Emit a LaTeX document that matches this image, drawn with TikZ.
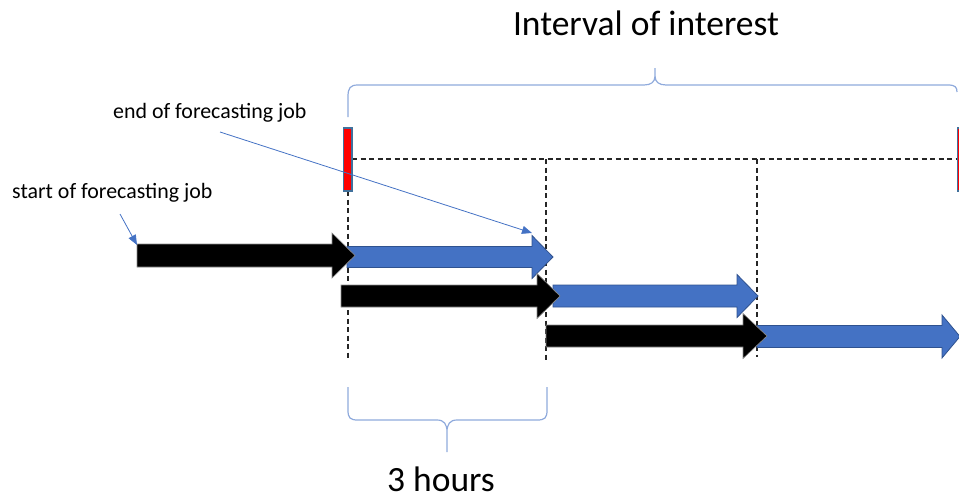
\documentclass[tikz,border=0pt]{standalone}
\usepackage{fontspec}
\setmainfont{Carlito}
\usetikzlibrary{arrows.meta}
\definecolor{jobblue}{HTML}{4472C4}
\definecolor{jobedge}{HTML}{2F528F}
\definecolor{bracecol}{HTML}{8FAADC}
\definecolor{baredge}{HTML}{41719C}
\tikzset{
  bigtext/.style={font=\fontsize{35.5}{40}\selectfont, inner sep=0pt, anchor=base},
  smalltext/.style={font=\fontsize{21.9}{26}\selectfont, inner sep=0pt, anchor=base west},
  brace/.style={draw=bracecol, line width=1.2pt},
  guide/.style={draw=black!85, line width=1.4pt, dash pattern=on 5pt off 3.5pt},
  pointer/.style={draw=jobblue, line width=0.8pt, -{Triangle[length=10pt,width=8pt]}},
  blackjob/.style={fill=black, draw=black!45, line width=0.6pt},
  bluejob/.style={fill=jobblue, draw=jobedge, line width=0.8pt},
  marker/.style={fill=red, draw=baredge, line width=1.8pt},
}
% block arrow: style, start x, head start x, tip x, centre y, body half height, head half height
\newcommand{\jobarrow}[7]{%
  \path[#1] (#2,#5-#6) -- (#3,#5-#6) -- (#3,#5-#7) -- (#4,#5) -- (#3,#5+#7)
    -- (#3,#5+#6) -- (#2,#5+#6) -- cycle;}
\begin{document}
\begin{tikzpicture}[x=1pt, y=-1pt]
\useasboundingbox (0,0) rectangle (959,499);

% title and interval brace
\node[bigtext] (title) at (646,35) {Interval of interest};
\draw[brace] (348,117) -- (348,97) .. controls (348,88) and (350,85) .. (358,85)
  -- (644,85) .. controls (651,85) and (655,82) .. (655,76) -- (655,68)
  (655,76) .. controls (655,82) and (659,85) .. (666,85)
  -- (948,85) .. controls (955,85) and (957,87) .. (957,92);

% dashed guides
\draw[guide] (352,159) -- (957,159);
\draw[guide] (348,191) -- (348,360);
\draw[guide] (546,159) -- (546,361);
\draw[guide] (757,159) -- (757,357);

% interval end markers
\path[marker] (343.5,128) rectangle (352,191);
\path[marker] (957.5,128) rectangle (966,191);

% forecasting jobs: run (black) followed by forecast horizon (blue)
\jobarrow{bluejob}{347}{532}{553}{257}{10.5}{21.5}
\jobarrow{blackjob}{137}{332}{355}{255.5}{11.5}{22.5}
\jobarrow{bluejob}{553}{737}{758}{296}{11}{21.5}
\jobarrow{blackjob}{341}{537}{560}{296}{11}{22.5}
\jobarrow{bluejob}{757}{942}{960}{336.5}{11}{21.5}
\jobarrow{blackjob}{546}{743}{767}{336}{11}{22.5}

% labels and their pointers
\node[smalltext] (endlbl) at (113,118) {end of forecasting job};
\node[smalltext] (startlbl) at (12,198) {start of forecasting job};
\coordinate (endtail) at (220,132);
\coordinate (endtip) at (532,233);
\coordinate (starttail) at (120,214);
\coordinate (starttip) at (137,245);
\draw[pointer] (endtail) -- (endtip);
\draw[pointer] (starttail) -- (starttip);

% three-hour brace
\draw[brace] (348,387) -- (348,410) .. controls (348,418) and (350,420) .. (358,420)
  -- (437,420) .. controls (444,420) and (447,424) .. (447,432) -- (447,452)
  (447,432) .. controls (447,424) and (450,420) .. (457,420)
  -- (537,420) .. controls (545,420) and (547,418) .. (547,410) -- (547,387);
\node[bigtext, text depth=0pt] (hours) at (441,491) {3 hours};
\end{tikzpicture}
\end{document}
